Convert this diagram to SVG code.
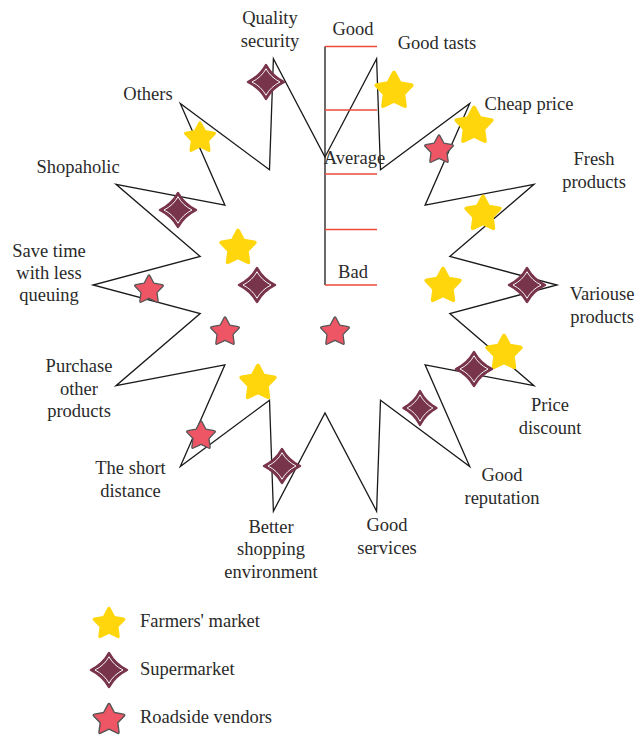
<svg xmlns="http://www.w3.org/2000/svg" xmlns:xlink="http://www.w3.org/1999/xlink" width="635" height="736" viewBox="0 0 635 736">
  <style>
    .lbl { font-family: "Liberation Serif", "Times New Roman", serif; font-size: 18.5px; fill: #2a2a2a; text-anchor: middle; }
    .leg { font-family: "Liberation Serif", "Times New Roman", serif; font-size: 18.5px; fill: #2a2a2a; }
    .outline { fill: none; stroke: #1a1a1a; stroke-width: 1.3; stroke-linejoin: miter; }
    .axis { stroke: #1a1a1a; stroke-width: 1.3; }
    .tick { stroke: #ee4a38; stroke-width: 1.3; }
    .farm { fill: #ffd60c; stroke: #ffd60c; stroke-width: 1.5; stroke-linejoin: round; }
    .road { fill: #ee5565; stroke: #555555; stroke-width: 1.6; stroke-linejoin: round; }
    .superOuter { fill: #78344a; stroke: #78344a; stroke-width: 2.5; stroke-linejoin: round; }
    .superInner { fill: none; stroke: #ffffff; stroke-width: 1.2; stroke-linejoin: round; }
  </style>
  <defs>
    <!-- five-point star with rounded tips, outer radius 20 -->
    <path id="star" d="M-1.234,-17.70 Q0,-20 1.234,-17.70 L6.17,-8.49 L16.45,-6.64 Q19.02,-6.18 17.21,-4.30 L9.99,3.24 L11.41,13.59 Q11.76,16.18 9.41,15.04 L0,10.5 L-9.41,15.04 Q-11.76,16.18 -11.41,13.59 L-9.99,3.24 L-17.21,-4.30 Q-19.02,-6.18 -16.45,-6.64 L-6.17,-8.49 Z"/>
    <!-- four-point concave sparkle -->
    <path id="sparkle" d="M0,-17 Q6,-6 18,0 Q6,6 0,17 Q-6,6 -18,0 Q-6,-6 0,-17 Z"/>
    <g id="superMark">
      <use xlink:href="#sparkle" class="superOuter"/>
      <use xlink:href="#sparkle" class="superInner" transform="scale(0.78)"/>
    </g>
  </defs>

  <rect width="635" height="736" fill="#ffffff"/>

  <!-- 14-point outline of the attributes -->
  <g id="connectors">
    <polygon class="outline" points="325,157 376.6,58.8 380.5,169.7 469.7,103.6 425.1,205.2 534.0,184.3 449.8,256.5 557,285 449.8,313.5 534.0,385.7 425.1,364.8 469.7,466.4 380.5,400.3 376.6,511.2 325,413 273.4,511.2 269.5,400.3 180.3,466.4 224.9,364.8 116.0,385.7 200.2,313.5 93,285 200.2,256.5 116.0,184.3 224.9,205.2 180.3,103.6 269.5,169.7 273.4,58.8"/>
  </g>

  <!-- rating scale -->
  <g id="scale">
    <line class="axis" x1="325" y1="46.5" x2="325" y2="285"/>
    <line class="tick" x1="325" y1="46.5" x2="377" y2="46.5"/>
    <line class="tick" x1="325" y1="110" x2="377" y2="110"/>
    <line class="tick" x1="325" y1="174" x2="377" y2="174"/>
    <line class="tick" x1="325" y1="229.5" x2="377" y2="229.5"/>
    <line class="tick" x1="325" y1="285" x2="377" y2="285" stroke="#f07060"/>
    <text class="lbl" x="353" y="35">Good</text>
    <text class="lbl" x="354.5" y="164">Average</text>
    <text class="lbl" x="353" y="278">Bad</text>
  </g>

  <!-- attribute labels -->
  <g id="node-quality"><text class="lbl" x="270" y="24">Quality</text><text class="lbl" x="270" y="47">security</text></g>
  <g id="node-taste"><text class="lbl" x="437" y="49">Good tasts</text></g>
  <g id="node-cheap"><text class="lbl" x="529" y="110">Cheap price</text></g>
  <g id="node-fresh"><text class="lbl" x="594" y="165">Fresh</text><text class="lbl" x="594" y="188">products</text></g>
  <g id="node-various"><text class="lbl" x="602" y="300">Variouse</text><text class="lbl" x="602" y="323">products</text></g>
  <g id="node-discount"><text class="lbl" x="550" y="411">Price</text><text class="lbl" x="550" y="434">discount</text></g>
  <g id="node-reputation"><text class="lbl" x="502" y="481">Good</text><text class="lbl" x="502" y="504">reputation</text></g>
  <g id="node-services"><text class="lbl" x="387" y="531">Good</text><text class="lbl" x="387" y="554">services</text></g>
  <g id="node-environment"><text class="lbl" x="271" y="533">Better</text><text class="lbl" x="271" y="555">shopping</text><text class="lbl" x="271" y="578">environment</text></g>
  <g id="node-distance"><text class="lbl" x="130.5" y="474">The short</text><text class="lbl" x="130.5" y="497">distance</text></g>
  <g id="node-purchase"><text class="lbl" x="79" y="372">Purchase</text><text class="lbl" x="79" y="395">other</text><text class="lbl" x="79" y="417">products</text></g>
  <g id="node-savetime"><text class="lbl" x="49" y="257">Save time</text><text class="lbl" x="49" y="279">with less</text><text class="lbl" x="49" y="301">queuing</text></g>
  <g id="node-shopaholic"><text class="lbl" x="78" y="173">Shopaholic</text></g>
  <g id="node-others"><text class="lbl" x="148" y="100">Others</text></g>

  <!-- farmers' market ratings -->
  <g id="farmers">
    <use xlink:href="#star" class="farm" transform="translate(394,91) scale(1.05)"/>
    <use xlink:href="#star" class="farm" transform="translate(474,126) scale(1.05)"/>
    <use xlink:href="#star" class="farm" transform="translate(200,138) scale(0.86)"/>
    <use xlink:href="#star" class="farm" transform="translate(483,214) scale(1.0)"/>
    <use xlink:href="#star" class="farm" transform="translate(238,248) scale(1.0)"/>
    <use xlink:href="#star" class="farm" transform="translate(443,286) scale(1.0)"/>
    <use xlink:href="#star" class="farm" transform="translate(504,353) scale(1.0)"/>
    <use xlink:href="#star" class="farm" transform="translate(258,383) scale(1.0)"/>
  </g>

  <!-- supermarket ratings -->
  <g id="supermarket">
    <use xlink:href="#superMark" transform="translate(266,82)"/>
    <use xlink:href="#superMark" transform="translate(178,210)"/>
    <use xlink:href="#superMark" transform="translate(257,285)"/>
    <use xlink:href="#superMark" transform="translate(527,285)"/>
    <use xlink:href="#superMark" transform="translate(474,369)"/>
    <use xlink:href="#superMark" transform="translate(420,408) scale(0.92,1)"/>
    <use xlink:href="#superMark" transform="translate(282,466)"/>
  </g>

  <!-- roadside vendor ratings -->
  <g id="roadside">
    <use xlink:href="#star" class="road" transform="translate(439,150) scale(0.8)"/>
    <use xlink:href="#star" class="road" transform="translate(149,290) scale(0.8)"/>
    <use xlink:href="#star" class="road" transform="translate(225,332) scale(0.8)"/>
    <use xlink:href="#star" class="road" transform="translate(335,332) scale(0.8)"/>
    <use xlink:href="#star" class="road" transform="translate(201,436) scale(0.8)"/>
  </g>

  <!-- legend -->
  <g id="legend">
    <use xlink:href="#star" class="farm" transform="translate(109,624) scale(0.88)"/>
    <text class="leg" x="140" y="627">Farmers' market</text>
    <use xlink:href="#superMark" transform="translate(109,670)"/>
    <text class="leg" x="140" y="675">Supermarket</text>
    <use xlink:href="#star" class="road" transform="translate(109,720) scale(0.88)"/>
    <text class="leg" x="140" y="723">Roadside vendors</text>
  </g>
</svg>
